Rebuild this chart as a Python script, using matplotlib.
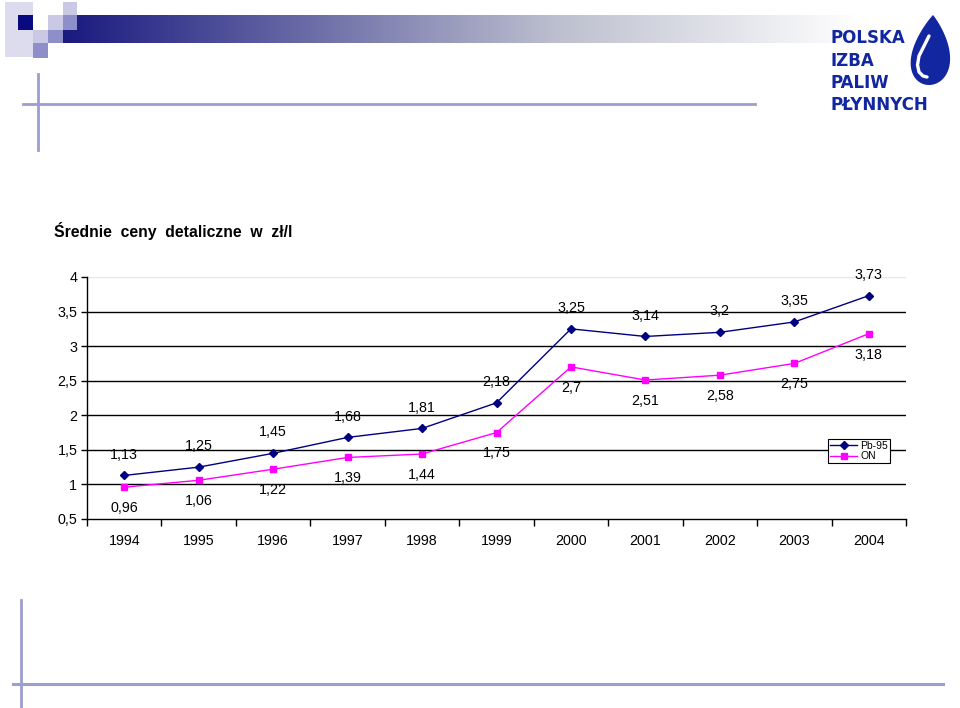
import numpy as np
import matplotlib
matplotlib.use("Agg")
import matplotlib.pyplot as plt
from matplotlib.patches import Rectangle, Polygon
from matplotlib.ticker import FuncFormatter, FixedLocator

plt.rcParams['font.family'] = ['Liberation Sans', 'DejaVu Sans']

# data
years = ['1994', '1995', '1996', '1997', '1998', '1999', '2000', '2001', '2002', '2003', '2004']
pb95 = [1.13, 1.25, 1.45, 1.68, 1.81, 2.18, 3.25, 3.14, 3.2, 3.35, 3.73]
on = [0.96, 1.06, 1.22, 1.39, 1.44, 1.75, 2.7, 2.51, 2.58, 2.75, 3.18]
series_names = ['Pb-95', 'ON']
title = 'Średnie  ceny  detaliczne  w  zł/l'

fig = plt.figure(figsize=(9.6, 7.08), dpi=100)

# background layer in pixel coordinates for the slide decoration
bg = fig.add_axes([0, 0, 1, 1], zorder=0)
bg.set_xlim(0, 960)
bg.set_ylim(708, 0)
bg.axis('off')

# gradient bar at the top
xs = np.linspace(0, 1, 400)
stops_x = [0, 0.62, 1]
cols = np.array([[0.10, 0.10, 0.50], [0.74, 0.75, 0.81], [1.0, 1.0, 1.0]])
grad = np.stack([np.interp(xs, stops_x, cols[:, k]) for k in range(3)], axis=-1)
bg.imshow(grad[np.newaxis, :, :], extent=(63, 860, 43, 15), aspect='auto', zorder=1)

# small squares top-left
light = '#c9c9e6'
mid = '#8e8ec9'
bg.add_patch(Rectangle((5, 2), 28, 55, color='#dcdcee', lw=0, zorder=1))
bg.add_patch(Rectangle((18, 15), 15, 15, color='#0a0a80', lw=0, zorder=2))
bg.add_patch(Rectangle((48, 15), 15, 15, color=light, lw=0, zorder=2))
bg.add_patch(Rectangle((63, 2), 14, 13, color=light, lw=0, zorder=2))
bg.add_patch(Rectangle((63, 15), 14, 15, color=mid, lw=0, zorder=2))
bg.add_patch(Rectangle((33, 30), 15, 13, color=light, lw=0, zorder=2))
bg.add_patch(Rectangle((48, 30), 15, 13, color=mid, lw=0, zorder=2))
bg.add_patch(Rectangle((33, 43), 15, 15, color=mid, lw=0, zorder=2))

# thin guide lines
lc = '#9d9dcf'
bg.plot([38, 38], [74, 150], color=lc, lw=2)
bg.plot([23, 755], [104, 104], color=lc, lw=2)
bg.plot([21, 21], [600, 707], color=lc, lw=2)
bg.plot([13, 943], [684, 684], color=lc, lw=2.2)

# logo
logo_c = '#1226a0'
for i, w in enumerate(['POLSKA', 'IZBA', 'PALIW', 'PŁYNNYCH']):
    bg.text(831, 38 + i * 22.5, w, color=logo_c, fontsize=12, fontweight='bold',
            family='DejaVu Sans', va='center', ha='left', zorder=3)
t = np.linspace(0, 2 * np.pi, 200)
dx = np.sin(t) * np.sin(t / 2) ** 0.9
dy = np.cos(t)
px = 929 + 25 * dx + 4 * (dy + 1) / 2
py = 50 - 35 * dy
bg.add_patch(Polygon(np.column_stack([px, py]), closed=True, color=logo_c, lw=0, zorder=3))
hx = [929, 924, 919, 917.5, 919, 923, 927]
hy = [36, 46, 56, 65, 72, 76, 77]
bg.plot(hx, hy, color='white', lw=2.4, solid_capstyle='round', zorder=4)

# title
bg.text(54, 231, title, fontsize=11.3, fontweight='bold', va='center', ha='left')

# chart
ax = fig.add_axes([87 / 960, 1 - 519 / 708, 819 / 960, 242 / 708], zorder=2)
ax.patch.set_alpha(0)
x = np.arange(len(years))
ax.plot(x, pb95, color='#000080', lw=1, marker='D', markersize=4, label=series_names[0], zorder=3)
ax.plot(x, on, color='#ff00ff', lw=1, marker='s', markersize=4.2, label=series_names[1], zorder=3)

for xi, v in zip(x, pb95):
    ax.annotate(f'{v:g}'.replace('.', ','), (xi, v), xytext=(0, 15), textcoords='offset points',
                ha='center', va='center', fontsize=10.3)
for xi, v in zip(x, on):
    ax.annotate(f'{v:g}'.replace('.', ','), (xi, v), xytext=(0, -15), textcoords='offset points',
                ha='center', va='center', fontsize=10.3)

ax.set_xlim(-0.5, len(years) - 0.5)
ax.set_ylim(0.5, 4)
yt = [0.5, 1, 1.5, 2, 2.5, 3, 3.5, 4]
ax.set_yticks(yt)
ax.yaxis.set_major_formatter(FuncFormatter(lambda v, p: f'{v:g}'.replace('.', ',')))
for v in yt[1:-1]:
    ax.axhline(v, color='black', lw=1, zorder=1)
ax.axhline(4, color='#e6e6e6', lw=1, zorder=1)

ax.set_xticks(x)
ax.set_xticklabels(years)
ax.xaxis.set_minor_locator(FixedLocator(np.arange(-0.5, len(years), 1)))
ax.tick_params(axis='x', which='major', length=0, pad=11, labelsize=10.3)
ax.tick_params(axis='x', which='minor', length=5, direction='out', width=1)
ax.tick_params(axis='y', length=4, direction='out', width=1, labelsize=10.3, pad=3)
for s in ['top', 'right']:
    ax.spines[s].set_visible(False)
ax.spines['left'].set_linewidth(1)
ax.spines['bottom'].set_linewidth(1)

leg = ax.legend(loc='center', bbox_to_anchor=(0.943, 0.281), fontsize=7.5, frameon=True,
                fancybox=False, edgecolor='black', framealpha=1, borderpad=0.2,
                handlelength=2.6, handletextpad=0.3, labelspacing=0.05, borderaxespad=0)
leg.get_frame().set_linewidth(0.8)

fig.savefig('out.png', dpi=100)
